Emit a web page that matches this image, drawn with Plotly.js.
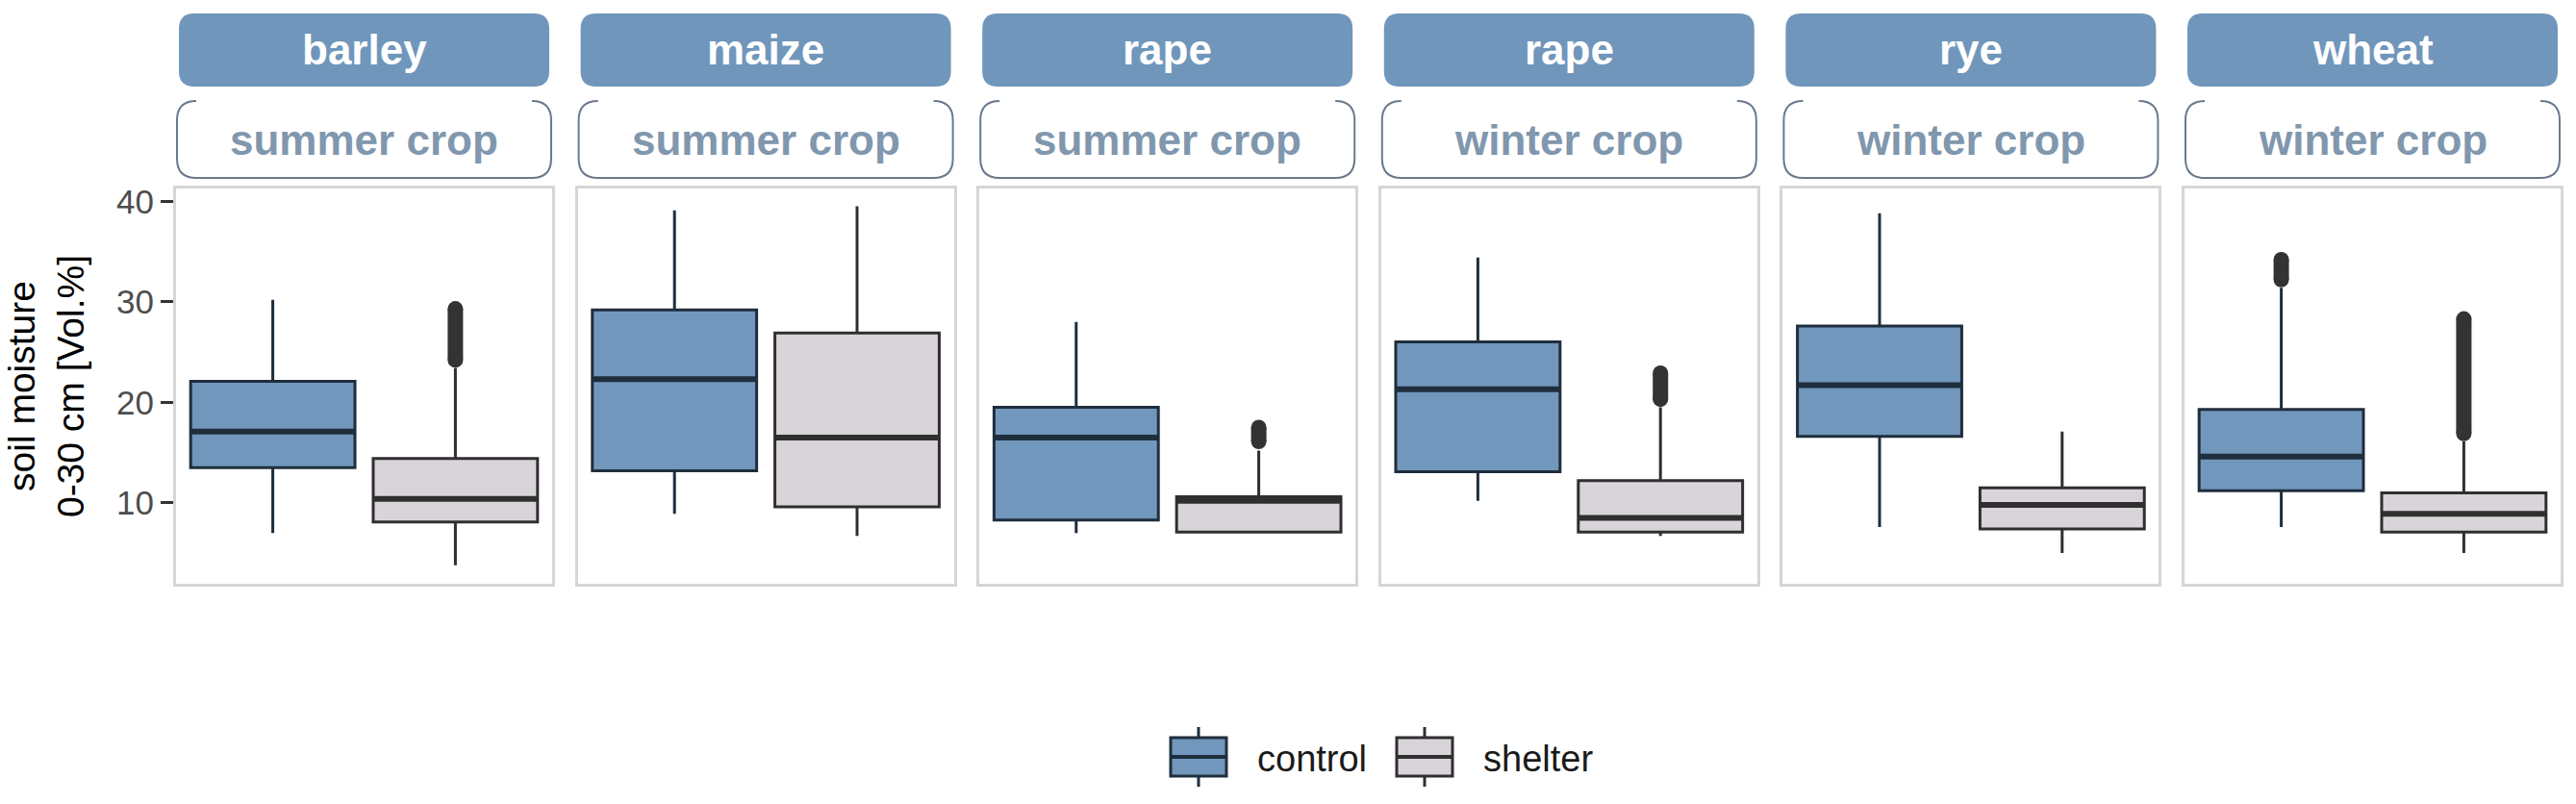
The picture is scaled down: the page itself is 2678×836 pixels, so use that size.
<!DOCTYPE html>
<html><head><meta charset="utf-8">
<script src="https://cdn.plot.ly/plotly-3.0.1.min.js"></script>
<style>html,body{margin:0;padding:0;background:#fff}</style>
</head><body><div id="chart" style="width:2678px;height:836px"></div>
<script>
// ---- data ----
const crops   = ['barley','maize','rape','rape','rye','wheat'];
const seasons = ['summer crop','summer crop','summer crop','winter crop','winter crop','winter crop'];
const groups  = ['control','shelter'];
const yTicks  = [10,20,30,40];

const ctrlLower   = [7.0, 8.9, 7.0, 10.2, 7.6, 7.6];
const ctrlQ1      = [13.5, 13.2, 8.3, 13.1, 16.6, 11.2];
const ctrlMedian  = [17.1, 22.3, 16.5, 21.3, 21.7, 14.6];
const ctrlQ3      = [22.1, 29.2, 19.5, 26.0, 27.6, 19.3];
const ctrlUpper   = [30.2, 39.1, 28.0, 34.4, 38.8, 31.4];
const ctrlOutLow  = [null, null, null, null, null, 32.2];
const ctrlOutHigh = [null, null, null, null, null, 34.2];

const shelLower   = [3.8, 6.7, 7.0, 6.7, 5.0, 5.0];
const shelQ1      = [8.1, 9.6, 7.1, 7.1, 7.4, 7.1];
const shelMedian  = [10.4, 16.5, 10.2, 8.5, 9.8, 8.9];
const shelQ3      = [14.4, 26.9, 10.6, 12.2, 11.5, 11.0];
const shelUpper   = [23.4, 39.5, 15.2, 19.5, 17.1, 16.1];
const shelOutLow  = [24.2, null, 16.1, 20.3, null, 16.9];
const shelOutHigh = [29.3, null, 17.5, 22.9, null, 28.3];

// ---- styling / layout ----
const W = 2678, H = 836;
const FONT = 'Liberation Sans, Arial, sans-serif';
const style = {
  control: {fill: '#7297BD', line: '#1f2e3d'},
  shelter: {fill: '#D9D4DA', line: '#2f2f2f'}
};
const stats = {
  control: {lower: ctrlLower, q1: ctrlQ1, med: ctrlMedian, q3: ctrlQ3, upper: ctrlUpper, oLo: ctrlOutLow, oHi: ctrlOutHigh},
  shelter: {lower: shelLower, q1: shelQ1, med: shelMedian, q3: shelQ3, upper: shelUpper, oLo: shelOutLow, oHi: shelOutHigh}
};
const panelLeft0 = 183, panelW = 391, panelStep = 417.6, panelTop = 196, panelBottom = 607;
const px = v => v / W, py = v => 1 - v / H;
const boxWidth = 0.9, halfW = boxWidth / 2;
const xRange = [-0.53, 1.53];
const yRange = [1.95, 41.27];

const traces = [];
const layout = {
  width: W, height: H,
  margin: {l: 0, r: 0, t: 0, b: 0},
  paper_bgcolor: '#ffffff', plot_bgcolor: '#ffffff',
  showlegend: false,
  font: {family: FONT},
  shapes: [], annotations: []
};

function rrPath(x0, y0, x1, y1, r, open) {
  // pixel coords -> paper coords path
  const P = (x, y) => px(x) + ',' + py(y);
  if (open) {
    return 'M' + P(x0 + r, y0) + ' Q' + P(x0, y0) + ' ' + P(x0, y0 + r) +
      ' L' + P(x0, y1 - r) + ' Q' + P(x0, y1) + ' ' + P(x0 + r, y1) +
      ' L' + P(x1 - r, y1) + ' Q' + P(x1, y1) + ' ' + P(x1, y1 - r) +
      ' L' + P(x1, y0 + r) + ' Q' + P(x1, y0) + ' ' + P(x1 - r, y0);
  }
  return 'M' + P(x0 + r, y0) + ' L' + P(x1 - r, y0) + ' Q' + P(x1, y0) + ' ' + P(x1, y0 + r) +
    ' L' + P(x1, y1 - r) + ' Q' + P(x1, y1) + ' ' + P(x1 - r, y1) +
    ' L' + P(x0 + r, y1) + ' Q' + P(x0, y1) + ' ' + P(x0, y1 - r) +
    ' L' + P(x0, y0 + r) + ' Q' + P(x0, y0) + ' ' + P(x0 + r, y0) + ' Z';
}

crops.forEach((crop, i) => {
  const sfx = i === 0 ? '' : String(i + 1);
  const xa = 'x' + sfx, ya = 'y' + sfx;
  const left = panelLeft0 + i * panelStep, right = left + panelW;

  layout['xaxis' + sfx] = {
    domain: [px(left), px(right)], anchor: ya, range: xRange,
    showticklabels: false, ticks: '', showgrid: false, zeroline: false,
    showline: true, mirror: true, linecolor: '#d6d6d6', linewidth: 3, fixedrange: true
  };
  const yax = {
    domain: [py(panelBottom), py(panelTop)], anchor: xa, range: yRange,
    showgrid: false, zeroline: false,
    showline: true, mirror: true, linecolor: '#d6d6d6', linewidth: 3, fixedrange: true
  };
  if (i === 0) {
    Object.assign(yax, {
      tickmode: 'array', tickvals: yTicks, ticktext: yTicks.map(String),
      ticks: 'outside', ticklen: 13, tickwidth: 3, tickcolor: '#333333',
      tickfont: {family: FONT, size: 35, color: '#4d4d4d'},
      title: {text: 'soil moisture<br>0-30 cm [Vol.%]', font: {family: FONT, size: 39, color: '#000000'}, standoff: 22}
    });
  } else {
    Object.assign(yax, {matches: 'y', showticklabels: false, ticks: ''});
  }
  layout['yaxis' + sfx] = yax;

  groups.forEach((g, gi) => {
    const s = stats[g], st = style[g];
    traces.push({
      type: 'box', xaxis: xa, yaxis: ya, name: g,
      x: [gi], q1: [s.q1[i]], median: [s.med[i]], q3: [s.q3[i]],
      lowerfence: [s.lower[i]], upperfence: [s.upper[i]],
      width: boxWidth, whiskerwidth: 0, boxpoints: false,
      fillcolor: st.fill, line: {color: st.line, width: 3},
      hoverinfo: 'skip', showlegend: false
    });
    // thicker median line
    traces.push({
      type: 'scatter', mode: 'lines', xaxis: xa, yaxis: ya,
      x: [gi - halfW, gi + halfW], y: [s.med[i], s.med[i]],
      line: {color: st.line, width: 6}, hoverinfo: 'skip', showlegend: false
    });
    // outliers (dense, drawn as a band between min & max)
    if (s.oLo[i] !== null) {
      traces.push({
        type: 'scatter', mode: 'lines+markers', xaxis: xa, yaxis: ya,
        x: [gi, gi], y: [s.oLo[i], s.oHi[i]],
        line: {color: '#333333', width: 16},
        marker: {color: '#333333', size: 16, symbol: 'circle'},
        hoverinfo: 'skip', showlegend: false
      });
    }
  });

  // strips
  layout.shapes.push({type: 'path', xref: 'paper', yref: 'paper', layer: 'above',
    path: rrPath(left + 3, 14, right - 3, 90, 16, false),
    fillcolor: '#7096BB', line: {width: 0}});
  layout.shapes.push({type: 'path', xref: 'paper', yref: 'paper', layer: 'above',
    path: rrPath(left + 1, 105, right - 1, 185, 20, true),
    line: {color: '#6a7a8c', width: 2}});
  layout.annotations.push({xref: 'paper', yref: 'paper', x: px((left + right) / 2), y: py(52),
    xanchor: 'center', yanchor: 'middle', showarrow: false,
    text: '<b>' + crop + '</b>', font: {family: FONT, size: 44, color: '#ffffff'}});
  layout.annotations.push({xref: 'paper', yref: 'paper', x: px((left + right) / 2), y: py(146),
    xanchor: 'center', yanchor: 'middle', showarrow: false,
    text: '<b>' + seasons[i] + '</b>', font: {family: FONT, size: 44, color: '#8097AE'}});
});

// legend (drawn manually to mimic box keys)
const keyX = [1217, 1452], textX = [1305, 1540], keyW = 58;
groups.forEach((g, gi) => {
  const st = style[g], x0 = keyX[gi], x1 = x0 + keyW, xc = (x0 + x1) / 2;
  layout.shapes.push({type: 'line', xref: 'paper', yref: 'paper', x0: px(xc), x1: px(xc), y0: py(756), y1: py(818),
    line: {color: st.line, width: 3}});
  layout.shapes.push({type: 'rect', xref: 'paper', yref: 'paper', x0: px(x0), x1: px(x1), y0: py(767), y1: py(807),
    fillcolor: st.fill, line: {color: st.line, width: 3}});
  layout.shapes.push({type: 'line', xref: 'paper', yref: 'paper', x0: px(x0), x1: px(x1), y0: py(787), y1: py(787),
    line: {color: st.line, width: 4}});
  layout.annotations.push({xref: 'paper', yref: 'paper', x: px(textX[gi]), y: py(789),
    xanchor: 'left', yanchor: 'middle', showarrow: false,
    text: g, font: {family: FONT, size: 38, color: '#1a1a1a'}});
});

Plotly.newPlot('chart', traces, layout, {staticPlot: true, displayModeBar: false});
</script>
</body></html>
